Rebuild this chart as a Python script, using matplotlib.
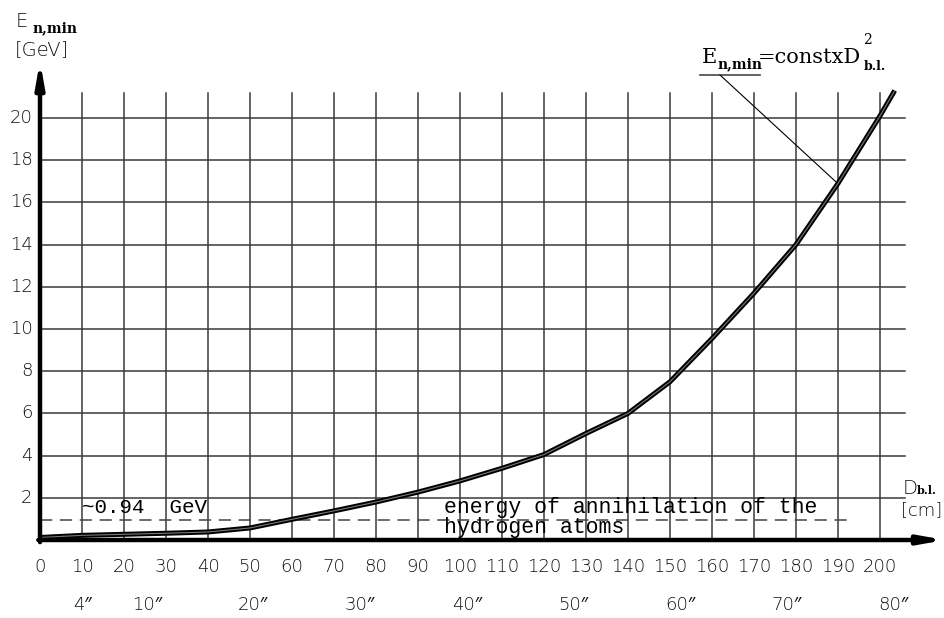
import matplotlib.pyplot as plt
import numpy as np

# curve: D_b.l. [cm] -> E_n,min [GeV]
d_cm = [0, 10, 20, 30, 40, 50, 60, 70, 80, 90, 100, 110, 120, 130, 140,
        150, 160, 170, 180, 190, 200, 203.5]
e_gev = [0.12, 0.22, 0.27, 0.32, 0.38, 0.57, 0.98, 1.38, 1.8, 2.27, 2.8,
         3.4, 4.05, 5.05, 6.0, 7.5, 9.55, 11.7, 14.0, 16.9, 20.1, 21.3]

x_ticks = list(range(0, 201, 10))
y_ticks = list(range(2, 21, 2))
inch_ticks = [4, 10, 20, 30, 40, 50, 60, 70, 80]
annih_energy = 0.94

CM_PER_INCH = 2.54
font_cad = ['DejaVu Sans', 'Noto Sans', 'Liberation Sans']
font_txt = 'DejaVu Serif'
font_mono = 'Liberation Mono'
label_col = '#111111'

fig = plt.figure(figsize=(9.45, 6.18), dpi=100)
ax = fig.add_axes([0, 0, 1, 1])
ax.set_xlim(-40 / 4.2, 905 / 4.2)
ax.set_ylim(-78 / 21.1, 540 / 21.1)
ax.axis('off')

# grid
for x in x_ticks[1:]:
    ax.plot([x, x], [0, 21.2], color='#3a3a3a', lw=1.1, zorder=1)
for y in y_ticks:
    ax.plot([0, 206], [y, y], color='#3a3a3a', lw=1.1, zorder=1)

# axes with arrows
ax.annotate('', xy=(0, 22.7), xytext=(0, -0.1),
            arrowprops=dict(arrowstyle='-|>,head_width=0.25,head_length=1.4',
                            lw=3.2, color='k', shrinkA=0, shrinkB=0), zorder=5)
ax.annotate('', xy=(215.5, 0), xytext=(-0.4, 0),
            arrowprops=dict(arrowstyle='-|>,head_width=0.25,head_length=1.4',
                            lw=3.2, color='k', shrinkA=0, shrinkB=0), zorder=5)

# dashed line for annihilation energy
ax.plot([0, 193], [annih_energy, annih_energy], color='#444444', lw=1.1,
        ls=(0, (8, 5)), zorder=2)

# curve, drawn as double line
ax.plot(d_cm, e_gev, color='k', lw=3.6, solid_capstyle='butt', zorder=4)
ax.plot(d_cm, e_gev, color='#777777', lw=0.8, zorder=4)

# tick labels
for x in x_ticks:
    ax.text(x, -1.28, str(x), ha='center', va='center', fontsize=13,
            family=font_cad, fontweight='light', color=label_col)
for y in y_ticks:
    ax.text(-1.8, y, str(y), ha='right', va='center', fontsize=13,
            family=font_cad, fontweight='light', color=label_col)
for i in inch_ticks:
    ax.text(i * CM_PER_INCH, -3.08, f'{i}\u2033', ha='center', va='center',
            fontsize=13, family=font_cad, fontweight='light', color=label_col)

# axis titles
ax.text(-5.7, 24.3, 'E', fontsize=14, family=font_cad, fontweight='light',
        va='baseline', ha='left', color=label_col)
ax.text(-1.7, 24.05, 'n,min', fontsize=10, family=font_txt,
        fontweight='bold', va='baseline', ha='left')
ax.text(-6.0, 23.0, '[GeV]', fontsize=14, family=font_cad,
        fontweight='light', va='baseline', ha='left', color=label_col)
ax.text(205.3, 2.2, 'D', fontsize=14, family=font_cad, fontweight='light',
        va='baseline', ha='left', color=label_col)
ax.text(208.8, 2.2, 'b.l.', fontsize=8, family=font_txt, fontweight='bold',
        va='baseline', ha='left')
ax.text(205.0, 1.2, '[cm]', fontsize=13, family=font_cad,
        fontweight='light', va='baseline', ha='left', color=label_col)

# annotations
ax.text(10.0, 1.28, '~0.94  GeV', fontsize=15, family=font_mono,
        va='baseline', ha='left')
ax.text(96.2, 1.28, 'energy of annihilation of the', fontsize=15.5,
        family=font_mono, va='baseline', ha='left')
ax.text(96.2, 0.33, 'hydrogen atoms', fontsize=15.5, family=font_mono,
        va='baseline', ha='left', zorder=3)

ax.text(157.6, 22.6, 'E', fontsize=15, family=font_txt, va='baseline',
        ha='left')
ax.text(161.4, 22.37, 'n,min', fontsize=10, family=font_txt,
        fontweight='bold', va='baseline', ha='left')
ax.text(171.0, 22.6, '=constxD', fontsize=15, family=font_txt,
        va='baseline', ha='left')
ax.text(196.0, 23.5, '2', fontsize=10, family=font_txt, va='baseline',
        ha='left')
ax.text(196.0, 22.27, 'b.l.', fontsize=9, family=font_txt,
        fontweight='bold', va='baseline', ha='left')
ax.plot([157.1, 171.4], [22.04, 22.04], color='#555555', lw=1.3)
ax.plot([161.9, 189.8], [22.04, 16.92], color='k', lw=0.8)

fig.savefig('out.png', dpi=100)
